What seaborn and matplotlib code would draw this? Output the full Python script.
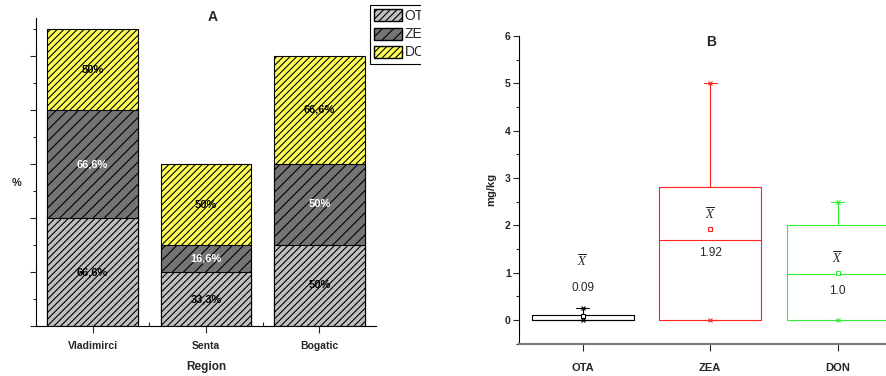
import numpy as np
import pandas as pd
import matplotlib
matplotlib.use("Agg")
import matplotlib.pyplot as plt
from matplotlib.patches import Patch, Rectangle
from matplotlib.ticker import MultipleLocator
import seaborn as sns

# ---------------- data ----------------
regions = ["Vladimirci", "Senta", "Bogatic"]
ota_pct = [66.6, 33.3, 50.0]
zea_pct = [66.6, 16.6, 50.0]
don_pct = [50.0, 50.0, 66.6]
series_names = ["OTA", "ZEA", "DON"]

toxins = ["OTA", "ZEA", "DON"]
q1_vals = [0.0, 0.0, 0.0]
median_vals = [0.0, 1.70, 0.97]
q3_vals = [0.10, 2.80, 2.00]
min_vals = [0.0, 0.0, 0.0]
max_vals = [0.25, 5.00, 2.50]
mean_vals = [0.09, 1.92, 1.0]
mean_labels = ["0.09", "1.92", "1.0"]

# ---------------- style ----------------
sns.set_style("ticks")
plt.rcParams["font.family"] = ["Liberation Sans", "DejaVu Sans"]
plt.rcParams["mathtext.fontset"] = "stix"
plt.rcParams["hatch.linewidth"] = 0.8

W, H = 887, 376
fig = plt.figure(figsize=(W / 100, H / 100), dpi=100)

def fx(px):
    return px / W

def fy(py):
    return 1 - py / H

# ---------------- panel A ----------------
axA = fig.add_axes([fx(36), fy(326), fx(340), (326 - 18) / H])

c_ota = "#c0c0c0"
c_zea = "#747474"
c_don = "#ffff55"
h_ota = "/////"
h_zea = "///"
h_don = "/////"

ota_a = np.array(ota_pct)
zea_a = np.array(zea_pct)
don_a = np.array(don_pct)
cum1 = ota_a
cum2 = ota_a + zea_a
cum3 = ota_a + zea_a + don_a

df = pd.DataFrame({"Region": regions, "c1": cum1, "c2": cum2, "c3": cum3})
for col, color, hatch in [("c3", c_don, h_don), ("c2", c_zea, h_zea), ("c1", c_ota, h_ota)]:
    sns.barplot(data=df, x="Region", y=col, color=color, saturation=1,
                edgecolor="black", linewidth=0.8, hatch=hatch, width=0.8,
                errorbar=None, ax=axA)

def fmt(v):
    return (f"{v:g}%").replace(".", ",")

for i in range(len(regions)):
    axA.text(i, cum1[i] / 2, fmt(ota_a[i]), ha="center", va="center",
             fontsize=8, fontweight="bold", color="black")
    axA.text(i, (cum1[i] + cum2[i]) / 2, fmt(zea_a[i]), ha="center", va="center",
             fontsize=8, fontweight="bold", color="white")
    axA.text(i, (cum2[i] + cum3[i]) / 2, fmt(don_a[i]), ha="center", va="center",
             fontsize=8, fontweight="bold", color="black")

axA.set_xlim(-0.5, 2.5)
axA.set_ylim(0, 190)
axA.yaxis.set_major_locator(MultipleLocator(100 / 3))
axA.yaxis.set_minor_locator(MultipleLocator(100 / 6))
axA.set_yticklabels([])
axA.tick_params(axis="y", which="major", direction="out", length=4, width=0.8, labelleft=False)
axA.tick_params(axis="y", which="minor", direction="out", length=2, width=0.8)
axA.xaxis.set_minor_locator(matplotlib.ticker.FixedLocator([0.5, 1.5]))
axA.tick_params(axis="x", which="major", direction="out", length=5, width=0.8,
                labelsize=7.5, pad=6)
axA.tick_params(axis="x", which="minor", direction="in", length=3, width=0.8)
for lbl in axA.get_xticklabels():
    lbl.set_fontweight("bold")
axA.set_xlabel("")
axA.set_ylabel("")
for s in ["top", "right"]:
    axA.spines[s].set_visible(False)
for s in ["left", "bottom"]:
    axA.spines[s].set_linewidth(0.8)
    axA.spines[s].set_color("black")

handles = [Patch(facecolor=c_ota, edgecolor="black", hatch=h_ota, label="OTA"),
           Patch(facecolor=c_zea, edgecolor="black", hatch=h_zea, label="ZEA"),
           Patch(facecolor=c_don, edgecolor="black", hatch=h_don, label="DON")]
leg = axA.legend(handles=handles, loc="upper left",
                 bbox_to_anchor=(fx(370), fy(5)), bbox_transform=fig.transFigure,
                 borderaxespad=0, frameon=True, fancybox=False, framealpha=1,
                 edgecolor="black", fontsize=10, handlelength=2.0, handleheight=0.95,
                 handletextpad=0.2, labelspacing=0.3, borderpad=0.3)
leg.get_frame().set_linewidth(0.8)
# the legend is cut by the panel edge in the reference
fig.add_artist(Rectangle((fx(421), fy(80)), fx(35), 80 / H, transform=fig.transFigure,
                         facecolor="white", edgecolor="none", zorder=10))

fig.text(fx(213), fy(17), "A", ha="center", va="center", fontsize=10, fontweight="bold")
fig.text(fx(17), fy(183), "%", ha="center", va="center", fontsize=8, fontweight="bold")
fig.text(fx(206), fy(367), "Region", ha="center", va="center", fontsize=8.5, fontweight="bold")

# ---------------- panel B ----------------
axB = fig.add_axes([fx(519), fy(343.7), fx(382.5), 307.7 / H])
box_colors = ["black", "#ff2020", "#33ee33"]
stats = []
for i in range(len(toxins)):
    stats.append(dict(label=toxins[i], q1=q1_vals[i], med=median_vals[i], q3=q3_vals[i],
                      whislo=min_vals[i], whishi=max_vals[i], mean=mean_vals[i], fliers=[]))
bp = axB.bxp(stats, positions=range(len(toxins)), widths=0.8, showmeans=True,
             showfliers=False, capwidths=0.1, manage_ticks=False)
for i, c in enumerate(box_colors):
    bp["boxes"][i].set(color=c, linewidth=0.8)
    bp["medians"][i].set(color=c, linewidth=0.8)
    for w in bp["whiskers"][2 * i:2 * i + 2]:
        w.set(color=c, linewidth=0.8)
    for cp in bp["caps"][2 * i:2 * i + 2]:
        cp.set(color=c, linewidth=0.8)
    bp["means"][i].set(marker="s", markerfacecolor="white", markeredgecolor=c,
                       markersize=3, markeredgewidth=0.8)
    axB.plot([i, i], [min_vals[i], max_vals[i]], linestyle="none", marker="x",
             color=c, markersize=3.5, markeredgewidth=0.8)

xbar_y = [1.23, 2.22, 1.29]
val_y = [0.68, 1.42, 0.61]
for i in range(len(toxins)):
    axB.text(i, xbar_y[i], r"$\overline{X}$", ha="center", va="center", fontsize=9)
    axB.text(i, val_y[i], mean_labels[i], ha="center", va="center", fontsize=8.5)

axB.set_xlim(-0.5, 2.5)
axB.set_ylim(-0.5, 6)
axB.set_xticks(range(len(toxins)))
axB.set_xticklabels(toxins)
axB.yaxis.set_major_locator(MultipleLocator(1))
axB.yaxis.set_minor_locator(MultipleLocator(0.5))
axB.tick_params(axis="y", which="major", direction="out", length=4, width=0.8,
                labelsize=7.5, pad=2)
axB.tick_params(axis="y", which="minor", direction="out", length=2, width=0.8)
axB.tick_params(axis="x", which="major", direction="out", length=5, width=0.8,
                labelsize=8, pad=9)
for lbl in axB.get_xticklabels() + axB.get_yticklabels():
    lbl.set_fontweight("bold")
for s in ["top", "right"]:
    axB.spines[s].set_visible(False)
axB.spines["left"].set_linewidth(0.8)
axB.spines["left"].set_color("black")
axB.spines["bottom"].set_linewidth(1.5)
axB.spines["bottom"].set_color("#7a7a7a")
axB.set_ylabel("mg/kg", fontsize=8, fontweight="bold", labelpad=6)

fig.text(fx(711), fy(42), "B", ha="center", va="center", fontsize=10, fontweight="bold")

fig.savefig("out.png", dpi=100)
